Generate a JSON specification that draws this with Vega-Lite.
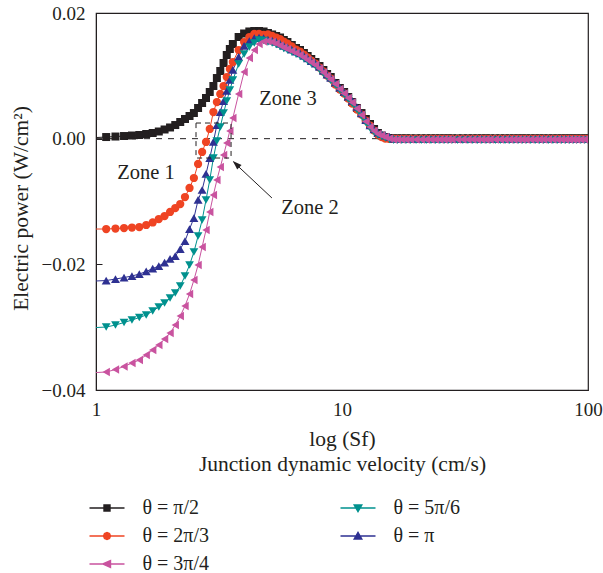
{
  "$schema": "https://vega.github.io/schema/vega-lite/v6.json",
  "width": 492,
  "height": 377,
  "autosize": "none",
  "padding": {"left": 96, "top": 13, "right": 15, "bottom": 183},
  "background": "white",
  "config": {
    "font": "Liberation Serif",
    "view": {"stroke": "#231f20", "strokeWidth": 1.2},
    "axis": {"labelFont": "Liberation Serif", "titleFont": "Liberation Serif", "labelColor": "#231f20", "titleColor": "#231f20", "domainColor": "#231f20", "tickColor": "#231f20", "grid": false, "titleFontWeight": "normal"}
  },
  "resolve": {"scale": {"color": "independent", "shape": "independent", "stroke": "independent", "size": "independent"}},
  "datasets": {
    "keys": [
      {"k": "p1", "Sf": 1.1, "P": 0.00026},
      {"k": "p2", "Sf": 1.1, "P": -0.01438},
      {"k": "p3", "Sf": 1.1, "P": -0.02258},
      {"k": "p4", "Sf": 1.1, "P": -0.02998},
      {"k": "p5", "Sf": 1.1, "P": -0.03714}
    ],
    "curves": [
      {"Sf":1.0,"p1":0.00018,"p2":-0.01438,"p3":-0.02265,"p4":-0.03006,"p5":-0.03722},
      {"Sf":1.1,"p1":0.00026,"p2":-0.01438,"p3":-0.02258,"p4":-0.02998,"p5":-0.03714},
      {"Sf":1.2,"p1":0.00034,"p2":-0.01430,"p3":-0.02234,"p4":-0.02966,"p5":-0.03674},
      {"Sf":1.3,"p1":0.00042,"p2":-0.01422,"p3":-0.02210,"p4":-0.02926,"p5":-0.03626},
      {"Sf":1.4,"p1":0.00050,"p2":-0.01414,"p3":-0.02186,"p4":-0.02886,"p5":-0.03571},
      {"Sf":1.5,"p1":0.00058,"p2":-0.01406,"p3":-0.02154,"p4":-0.02846,"p5":-0.03523},
      {"Sf":1.6,"p1":0.00074,"p2":-0.01374,"p3":-0.02114,"p4":-0.02807,"p5":-0.03443},
      {"Sf":1.7,"p1":0.00090,"p2":-0.01334,"p3":-0.02067,"p4":-0.02743,"p5":-0.03364},
      {"Sf":1.8,"p1":0.00114,"p2":-0.01279,"p3":-0.02027,"p4":-0.02679,"p5":-0.03284},
      {"Sf":1.9,"p1":0.00146,"p2":-0.01231,"p3":-0.01971,"p4":-0.02616,"p5":-0.03189},
      {"Sf":2.0,"p1":0.00178,"p2":-0.01167,"p3":-0.01915,"p4":-0.02536,"p5":-0.03093},
      {"Sf":2.1,"p1":0.00217,"p2":-0.01104,"p3":-0.01868,"p4":-0.02456,"p5":-0.02966},
      {"Sf":2.2,"p1":0.00265,"p2":-0.01040,"p3":-0.01756,"p4":-0.02345,"p5":-0.02822},
      {"Sf":2.3,"p1":0.00313,"p2":-0.00929,"p3":-0.01629,"p4":-0.02186,"p5":-0.02663},
      {"Sf":2.4,"p1":0.00361,"p2":-0.00785,"p3":-0.01438,"p4":-0.02011,"p5":-0.02472},
      {"Sf":2.5,"p1":0.00408,"p2":-0.00626,"p3":-0.01263,"p4":-0.01804,"p5":-0.02250},
      {"Sf":2.6,"p1":0.00488,"p2":-0.00403,"p3":-0.00976,"p4":-0.01549,"p5":-0.02011},
      {"Sf":2.7,"p1":0.00568,"p2":-0.00212,"p3":-0.00817,"p4":-0.01295,"p5":-0.01724},
      {"Sf":2.8,"p1":0.00647,"p2":-0.00053,"p3":-0.00562,"p4":-0.00976,"p5":-0.01454},
      {"Sf":2.9,"p1":0.00743,"p2":0.00154,"p3":-0.00308,"p4":-0.00658,"p5":-0.01167},
      {"Sf":3.0,"p1":0.00838,"p2":0.00424,"p3":-0.00053,"p4":-0.00308,"p5":-0.00897},
      {"Sf":3.1,"p1":0.00965,"p2":0.00583,"p3":0.00217,"p4":-0.00037,"p5":-0.00658},
      {"Sf":3.2,"p1":0.01077,"p2":0.00711,"p3":0.00424,"p4":0.00186,"p5":-0.00451},
      {"Sf":3.3,"p1":0.01204,"p2":0.00838,"p3":0.00599,"p4":0.00408,"p5":-0.00260},
      {"Sf":3.4,"p1":0.01332,"p2":0.00981,"p3":0.00759,"p4":0.00599,"p5":-0.00069},
      {"Sf":3.5,"p1":0.01427,"p2":0.01109,"p3":0.00934,"p4":0.00774,"p5":0.00122},
      {"Sf":3.6,"p1":0.01507,"p2":0.01220,"p3":0.01093,"p4":0.00934,"p5":0.00329},
      {"Sf":3.8,"p1":0.01618,"p2":0.01411,"p3":0.01300,"p4":0.01188,"p5":0.00711},
      {"Sf":4.0,"p1":0.01674,"p2":0.01538,"p3":0.01475,"p4":0.01347,"p5":0.01061},
      {"Sf":4.2,"p1":0.01706,"p2":0.01618,"p3":0.01554,"p4":0.01459,"p5":0.01284},
      {"Sf":4.4,"p1":0.01713,"p2":0.01666,"p3":0.01602,"p4":0.01523,"p5":0.01411},
      {"Sf":4.6,"p1":0.01713,"p2":0.01666,"p3":0.01610,"p4":0.01570,"p5":0.01507},
      {"Sf":4.8,"p1":0.01706,"p2":0.01650,"p3":0.01602,"p4":0.01562,"p5":0.01546},
      {"Sf":5.0,"p1":0.01682,"p2":0.01658,"p3":0.01578,"p4":0.01538,"p5":0.01554},
      {"Sf":5.2,"p1":0.01658,"p2":0.01634,"p3":0.01562,"p4":0.01522,"p5":0.01538},
      {"Sf":5.4,"p1":0.01634,"p2":0.01610,"p3":0.01539,"p4":0.01499,"p5":0.01515},
      {"Sf":5.6,"p1":0.01610,"p2":0.01586,"p3":0.01507,"p4":0.01467,"p5":0.01483},
      {"Sf":5.8,"p1":0.01570,"p2":0.01546,"p3":0.01475,"p4":0.01435,"p5":0.01451},
      {"Sf":6.0,"p1":0.01538,"p2":0.01514,"p3":0.01451,"p4":0.01411,"p5":0.01427},
      {"Sf":6.25,"p1":0.01491,"p2":0.01467,"p3":0.01419,"p4":0.01379,"p5":0.01395},
      {"Sf":6.5,"p1":0.01443,"p2":0.01419,"p3":0.01387,"p4":0.01347,"p5":0.01363},
      {"Sf":6.75,"p1":0.01411,"p2":0.01387,"p3":0.01356,"p4":0.01316,"p5":0.01332},
      {"Sf":7.0,"p1":0.01363,"p2":0.01339,"p3":0.01316,"p4":0.01276,"p5":0.01292},
      {"Sf":7.25,"p1":0.01316,"p2":0.01292,"p3":0.01276,"p4":0.01236,"p5":0.01252},
      {"Sf":7.5,"p1":0.01268,"p2":0.01244,"p3":0.01236,"p4":0.01196,"p5":0.01212},
      {"Sf":7.8,"p1":0.01220,"p2":0.01196,"p3":0.01196,"p4":0.01156,"p5":0.01172},
      {"Sf":8.1,"p1":0.01156,"p2":0.01132,"p3":0.01141,"p4":0.01101,"p5":0.01117},
      {"Sf":8.4,"p1":0.01093,"p2":0.01069,"p3":0.01077,"p4":0.01037,"p5":0.01053},
      {"Sf":8.7,"p1":0.01029,"p2":0.01005,"p3":0.01021,"p4":0.00981,"p5":0.00997},
      {"Sf":9.0,"p1":0.00981,"p2":0.00957,"p3":0.00966,"p4":0.00926,"p5":0.00942},
      {"Sf":9.4,"p1":0.00886,"p2":0.00862,"p3":0.00894,"p4":0.00854,"p5":0.00870},
      {"Sf":9.8,"p1":0.00806,"p2":0.00782,"p3":0.00814,"p4":0.00774,"p5":0.00790},
      {"Sf":10.2,"p1":0.00743,"p2":0.00719,"p3":0.00743,"p4":0.00703,"p5":0.00719},
      {"Sf":10.6,"p1":0.00663,"p2":0.00639,"p3":0.00671,"p4":0.00631,"p5":0.00647},
      {"Sf":11,"p1":0.00583,"p2":0.00559,"p3":0.00600,"p4":0.00560,"p5":0.00576},
      {"Sf":11.5,"p1":0.00488,"p2":0.00464,"p3":0.00504,"p4":0.00464,"p5":0.00480},
      {"Sf":12,"p1":0.00408,"p2":0.00384,"p3":0.00401,"p4":0.00361,"p5":0.00377},
      {"Sf":12.5,"p1":0.00313,"p2":0.00289,"p3":0.00297,"p4":0.00257,"p5":0.00273},
      {"Sf":13,"p1":0.00233,"p2":0.00209,"p3":0.00210,"p4":0.00170,"p5":0.00186},
      {"Sf":13.5,"p1":0.00154,"p2":0.00130,"p3":0.00146,"p4":0.00106,"p5":0.00122},
      {"Sf":14,"p1":0.00090,"p2":0.00066,"p3":0.00098,"p4":0.00058,"p5":0.00074},
      {"Sf":14.5,"p1":0.00050,"p2":0.00026,"p3":0.00074,"p4":0.00034,"p5":0.00050},
      {"Sf":15,"p1":0.00026,"p2":0.00002,"p3":0.00050,"p4":0.00010,"p5":0.00026},
      {"Sf":15.6,"p1":0.00011,"p2":-0.00005,"p3":0.00027,"p4":-0.00013,"p5":0.00003},
      {"Sf":16.2,"p1":0.00005,"p2":-0.00005,"p3":-0.00002,"p4":-0.00024,"p5":-0.00013},
      {"Sf":16.8,"p1":0.00005,"p2":-0.00005,"p3":-0.00002,"p4":-0.00024,"p5":-0.00013},
      {"Sf":17.5,"p1":0.00005,"p2":-0.00005,"p3":-0.00002,"p4":-0.00024,"p5":-0.00013},
      {"Sf":18.2,"p1":0.00005,"p2":-0.00005,"p3":-0.00002,"p4":-0.00024,"p5":-0.00013},
      {"Sf":19,"p1":0.00005,"p2":-0.00005,"p3":-0.00002,"p4":-0.00024,"p5":-0.00013},
      {"Sf":20,"p1":0.00005,"p2":-0.00005,"p3":-0.00002,"p4":-0.00024,"p5":-0.00013},
      {"Sf":21,"p1":0.00005,"p2":-0.00005,"p3":-0.00002,"p4":-0.00024,"p5":-0.00013},
      {"Sf":22,"p1":0.00005,"p2":-0.00005,"p3":-0.00002,"p4":-0.00024,"p5":-0.00013},
      {"Sf":23,"p1":0.00005,"p2":-0.00005,"p3":-0.00002,"p4":-0.00024,"p5":-0.00013},
      {"Sf":24,"p1":0.00005,"p2":-0.00005,"p3":-0.00002,"p4":-0.00024,"p5":-0.00013},
      {"Sf":25,"p1":0.00005,"p2":-0.00005,"p3":-0.00002,"p4":-0.00024,"p5":-0.00013},
      {"Sf":26,"p1":0.00005,"p2":-0.00005,"p3":-0.00002,"p4":-0.00024,"p5":-0.00013},
      {"Sf":27,"p1":0.00005,"p2":-0.00005,"p3":-0.00002,"p4":-0.00024,"p5":-0.00013},
      {"Sf":28,"p1":0.00005,"p2":-0.00005,"p3":-0.00002,"p4":-0.00024,"p5":-0.00013},
      {"Sf":29.5,"p1":0.00005,"p2":-0.00005,"p3":-0.00002,"p4":-0.00024,"p5":-0.00013},
      {"Sf":31,"p1":0.00005,"p2":-0.00005,"p3":-0.00002,"p4":-0.00024,"p5":-0.00013},
      {"Sf":32.5,"p1":0.00005,"p2":-0.00005,"p3":-0.00002,"p4":-0.00024,"p5":-0.00013},
      {"Sf":34,"p1":0.00005,"p2":-0.00005,"p3":-0.00002,"p4":-0.00024,"p5":-0.00013},
      {"Sf":35.5,"p1":0.00005,"p2":-0.00005,"p3":-0.00002,"p4":-0.00024,"p5":-0.00013},
      {"Sf":37,"p1":0.00005,"p2":-0.00005,"p3":-0.00002,"p4":-0.00024,"p5":-0.00013},
      {"Sf":38.5,"p1":0.00005,"p2":-0.00005,"p3":-0.00002,"p4":-0.00024,"p5":-0.00013},
      {"Sf":40,"p1":0.00005,"p2":-0.00005,"p3":-0.00002,"p4":-0.00024,"p5":-0.00013},
      {"Sf":42,"p1":0.00005,"p2":-0.00005,"p3":-0.00002,"p4":-0.00024,"p5":-0.00013},
      {"Sf":44,"p1":0.00005,"p2":-0.00005,"p3":-0.00002,"p4":-0.00024,"p5":-0.00013},
      {"Sf":46,"p1":0.00005,"p2":-0.00005,"p3":-0.00002,"p4":-0.00024,"p5":-0.00013},
      {"Sf":48,"p1":0.00005,"p2":-0.00005,"p3":-0.00002,"p4":-0.00024,"p5":-0.00013},
      {"Sf":50,"p1":0.00005,"p2":-0.00005,"p3":-0.00002,"p4":-0.00024,"p5":-0.00013},
      {"Sf":52,"p1":0.00005,"p2":-0.00005,"p3":-0.00002,"p4":-0.00024,"p5":-0.00013},
      {"Sf":54,"p1":0.00005,"p2":-0.00005,"p3":-0.00002,"p4":-0.00024,"p5":-0.00013},
      {"Sf":56,"p1":0.00005,"p2":-0.00005,"p3":-0.00002,"p4":-0.00024,"p5":-0.00013},
      {"Sf":58.5,"p1":0.00005,"p2":-0.00005,"p3":-0.00002,"p4":-0.00024,"p5":-0.00013},
      {"Sf":61,"p1":0.00005,"p2":-0.00005,"p3":-0.00002,"p4":-0.00024,"p5":-0.00013},
      {"Sf":63.5,"p1":0.00005,"p2":-0.00005,"p3":-0.00002,"p4":-0.00024,"p5":-0.00013},
      {"Sf":66,"p1":0.00005,"p2":-0.00005,"p3":-0.00002,"p4":-0.00024,"p5":-0.00013},
      {"Sf":69,"p1":0.00005,"p2":-0.00005,"p3":-0.00002,"p4":-0.00024,"p5":-0.00013},
      {"Sf":72,"p1":0.00005,"p2":-0.00005,"p3":-0.00002,"p4":-0.00024,"p5":-0.00013},
      {"Sf":75,"p1":0.00005,"p2":-0.00005,"p3":-0.00002,"p4":-0.00024,"p5":-0.00013},
      {"Sf":78,"p1":0.00005,"p2":-0.00005,"p3":-0.00002,"p4":-0.00024,"p5":-0.00013},
      {"Sf":81,"p1":0.00005,"p2":-0.00005,"p3":-0.00002,"p4":-0.00024,"p5":-0.00013},
      {"Sf":84,"p1":0.00005,"p2":-0.00005,"p3":-0.00002,"p4":-0.00024,"p5":-0.00013},
      {"Sf":87,"p1":0.00005,"p2":-0.00005,"p3":-0.00002,"p4":-0.00024,"p5":-0.00013},
      {"Sf":90,"p1":0.00005,"p2":-0.00005,"p3":-0.00002,"p4":-0.00024,"p5":-0.00013},
      {"Sf":93.5,"p1":0.00005,"p2":-0.00005,"p3":-0.00002,"p4":-0.00024,"p5":-0.00013},
      {"Sf":97,"p1":0.00005,"p2":-0.00005,"p3":-0.00002,"p4":-0.00024,"p5":-0.00013},
      {"Sf":100,"p1":0.00005,"p2":-0.00005,"p3":-0.00002,"p4":-0.00024,"p5":-0.00013}
    ]
  },
  "layer": [
    {
      "data": {"values": [{"x0": 1, "x1": 22.2, "y0": 0}]},
      "mark": {"type": "rule", "strokeDash": [6, 6], "strokeWidth": 1, "color": "#231f20"},
      "encoding": {
        "x": {"field": "x0", "type": "quantitative", "scale": {"type": "log", "domain": [1, 100], "nice": false},
          "axis": {"values": [1, 10, 100], "format": "d", "ticks": false, "labelFontSize": 19, "labelPadding": 10, "labelFlush": false, "labelOverlap": false,
            "title": ["log (Sf)", "Junction dynamic velocity (cm/s)"], "titleFontSize": 21.5, "titleLineHeight": 25, "titlePadding": 9}},
        "x2": {"field": "x1"},
        "y": {"field": "y0", "type": "quantitative", "scale": {"domain": [-0.04, 0.02], "nice": false, "zero": false},
          "axis": {"values": [-0.04, -0.02, 0, 0.02], "format": ".2f", "tickSize": -6, "labelFontSize": 19, "labelPadding": 17,
            "title": "Electric power (W/cm²)", "titleFontSize": 21.5, "titlePadding": 9, "titleY": 195}}
      }
    },
    {
      "data": {"name": "curves"},
      "transform": [{"fold": ["p1", "p2", "p3", "p4", "p5"], "as": ["k", "P"]}],
      "mark": {"type": "line", "strokeWidth": 1, "clip": true},
      "encoding": {
        "x": {"field": "Sf", "type": "quantitative", "scale": {"type": "log", "domain": [1, 100], "nice": false}, "title": ["log (Sf)", "Junction dynamic velocity (cm/s)"]},
        "y": {"field": "P", "type": "quantitative", "scale": {"domain": [-0.04, 0.02], "nice": false, "zero": false}, "title": "Electric power (W/cm²)"},
        "color": {"field": "k", "type": "nominal",
          "scale": {"domain": ["p1", "p2", "p5", "p4", "p3"], "range": ["#231f20", "#ef4423", "#c9539f", "#00918e", "#2e3192"]},
          "legend": null}
      }
    },
    {
      "data": {"name": "curves"},
      "transform": [{"fold": ["p1", "p2", "p3", "p4", "p5"], "as": ["k", "P"]}, {"filter": "datum.Sf > 1"}],
      "mark": {"type": "point", "filled": true, "opacity": 1, "clip": true},
      "encoding": {
        "x": {"field": "Sf", "type": "quantitative", "scale": {"type": "log", "domain": [1, 100], "nice": false}, "title": ["log (Sf)", "Junction dynamic velocity (cm/s)"]},
        "y": {"field": "P", "type": "quantitative", "scale": {"domain": [-0.04, 0.02], "nice": false, "zero": false}, "title": "Electric power (W/cm²)"},
        "color": {"field": "k", "type": "nominal",
          "scale": {"domain": ["p1", "p2", "p5", "p4", "p3"], "range": ["#231f20", "#ef4423", "#c9539f", "#00918e", "#2e3192"]},
          "legend": null},
        "shape": {"field": "k", "type": "nominal",
          "scale": {"domain": ["p1", "p2", "p5", "p4", "p3"], "range": ["square", "circle", "triangle-left", "triangle-down", "triangle-up"]},
          "legend": null},
        "size": {"field": "k", "type": "nominal",
          "scale": {"domain": ["p1", "p2", "p5", "p4", "p3"], "range": [64, 80, 120, 110, 110]},
          "legend": null},
        "order": {"field": "k", "sort": "ascending"}
      }
    },
    {
      "data": {"name": "keys"},
      "mark": {"type": "point", "filled": true, "opacity": 0, "clip": true},
      "encoding": {
        "x": {"field": "Sf", "type": "quantitative", "scale": {"type": "log", "domain": [1, 100], "nice": false}, "title": ["log (Sf)", "Junction dynamic velocity (cm/s)"]},
        "y": {"field": "P", "type": "quantitative", "scale": {"domain": [-0.04, 0.02], "nice": false, "zero": false}, "title": "Electric power (W/cm²)"},
        "color": {"field": "k", "type": "nominal",
          "scale": {"domain": ["p1", "p2", "p5", "p4", "p3"], "range": ["#231f20", "#ef4423", "#c9539f", "#00918e", "#2e3192"]},
          "legend": {
            "orient": "none", "legendX": 0, "legendY": 484, "columns": 2, "columnPadding": 127, "rowPadding": 7, "title": null, "padding": 0,
            "symbolSize": 400, "symbolStrokeWidth": 1.4, "symbolOpacity": 1, "labelFont": "Liberation Serif", "labelFontSize": 20, "labelOffset": 24.5, "labelColor": "#231f20",
            "labelExpr": "{'p1':'θ = π/2','p2':'θ = 2π/3','p5':'θ = 3π/4','p4':'θ = 5π/6','p3':'θ = π'}[datum.label]"
          }},
        "stroke": {"field": "k", "type": "nominal",
          "scale": {"domain": ["p1", "p2", "p5", "p4", "p3"], "range": ["#231f20", "#ef4423", "#c9539f", "#00918e", "#2e3192"]},
          "legend": {
            "orient": "none", "legendX": 0, "legendY": 484, "columns": 2, "columnPadding": 127, "rowPadding": 7, "title": null, "padding": 0,
            "symbolSize": 400, "symbolStrokeWidth": 1.4, "symbolOpacity": 1, "labelFont": "Liberation Serif", "labelFontSize": 20, "labelOffset": 24.5, "labelColor": "#231f20",
            "labelExpr": "{'p1':'θ = π/2','p2':'θ = 2π/3','p5':'θ = 3π/4','p4':'θ = 5π/6','p3':'θ = π'}[datum.label]"
          }},
        "shape": {"field": "k", "type": "nominal",
          "scale": {"domain": ["p1", "p2", "p5", "p4", "p3"], "range": [
            "M-1.75,0H1.75M-0.3,-0.3H0.3V0.3H-0.3Z",
            "M-1.75,0H1.75M0.35,0L0.25,0.25L0,0.35L-0.25,0.25L-0.35,0L-0.25,-0.25L0,-0.35L0.25,-0.25Z",
            "M-1.75,0H1.75M-0.42,0L0.35,-0.35L0.35,0.35Z",
            "M-1.75,0H1.75M-0.38,-0.3H0.38L0,0.37Z",
            "M-1.75,0H1.75M-0.38,0.3H0.38L0,-0.37Z"]},
          "legend": {
            "orient": "none", "legendX": 0, "legendY": 484, "columns": 2, "columnPadding": 127, "rowPadding": 7, "title": null, "padding": 0,
            "symbolSize": 400, "symbolStrokeWidth": 1.4, "symbolOpacity": 1, "labelFont": "Liberation Serif", "labelFontSize": 20, "labelOffset": 24.5, "labelColor": "#231f20",
            "labelExpr": "{'p1':'θ = π/2','p2':'θ = 2π/3','p5':'θ = 3π/4','p4':'θ = 5π/6','p3':'θ = π'}[datum.label]"
          }}
      }
    },
    {
      "data": {"values": [{"bx0": 2.55, "bx1": 3.54, "by0": -0.00308, "by1": 0.00249}]},
      "mark": {"type": "rect", "fillOpacity": 0, "stroke": "#231f20", "strokeWidth": 1, "strokeDash": [5, 4]},
      "encoding": {
        "x": {"field": "bx0", "type": "quantitative", "scale": {"type": "log", "domain": [1, 100], "nice": false}, "title": ["log (Sf)", "Junction dynamic velocity (cm/s)"]},
        "x2": {"field": "bx1"},
        "y": {"field": "by0", "type": "quantitative", "scale": {"domain": [-0.04, 0.02], "nice": false, "zero": false}, "title": "Electric power (W/cm²)"},
        "y2": {"field": "by1"}
      }
    },
    {
      "data": {"values": [{"ax0": 5.19, "ay0": -0.00944, "ax1": 3.62, "ay1": -0.00370}]},
      "mark": {"type": "rule", "strokeWidth": 1, "color": "#231f20"},
      "encoding": {
        "x": {"field": "ax0", "type": "quantitative", "scale": {"type": "log", "domain": [1, 100], "nice": false}, "title": ["log (Sf)", "Junction dynamic velocity (cm/s)"]},
        "x2": {"field": "ax1"},
        "y": {"field": "ay0", "type": "quantitative", "scale": {"domain": [-0.04, 0.02], "nice": false, "zero": false}, "title": "Electric power (W/cm²)"},
        "y2": {"field": "ay1"}
      }
    },
    {
      "data": {"values": [{"hx": 3.60, "hy": -0.00356}]},
      "mark": {"type": "point", "filled": true, "color": "#231f20", "opacity": 1, "shape": "M0,0L-0.35,1L0.35,1Z", "size": 324, "angle": 313.5},
      "encoding": {
        "x": {"field": "hx", "type": "quantitative", "scale": {"type": "log", "domain": [1, 100], "nice": false}, "title": ["log (Sf)", "Junction dynamic velocity (cm/s)"]},
        "y": {"field": "hy", "type": "quantitative", "scale": {"domain": [-0.04, 0.02], "nice": false, "zero": false}, "title": "Electric power (W/cm²)"}
      }
    },
    {
      "data": {"values": [
        {"t": "Zone 1", "tx": 1.597, "ty": -0.00547},
        {"t": "Zone 2", "tx": 7.41, "ty": -0.01104},
        {"t": "Zone 3", "tx": 6.03, "ty": 0.00631}
      ]},
      "mark": {"type": "text", "font": "Liberation Serif", "fontSize": 20.5, "color": "#231f20", "align": "center", "baseline": "middle"},
      "encoding": {
        "x": {"field": "tx", "type": "quantitative", "scale": {"type": "log", "domain": [1, 100], "nice": false}, "title": ["log (Sf)", "Junction dynamic velocity (cm/s)"]},
        "y": {"field": "ty", "type": "quantitative", "scale": {"domain": [-0.04, 0.02], "nice": false, "zero": false}, "title": "Electric power (W/cm²)"},
        "text": {"field": "t"}
      }
    }
  ]
}
